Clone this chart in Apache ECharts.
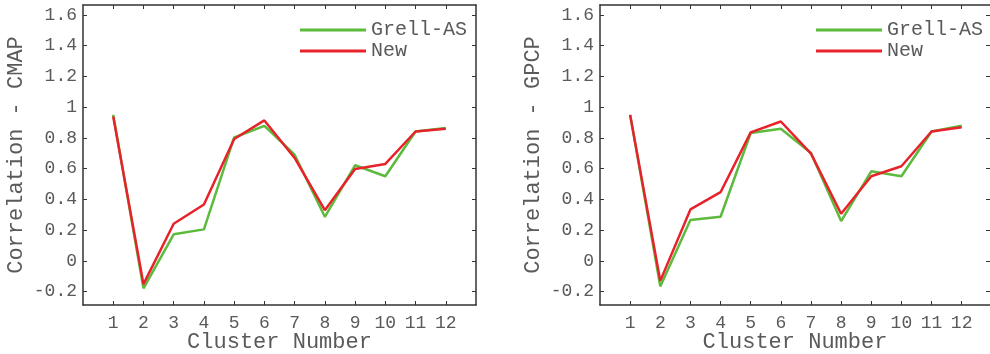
<!DOCTYPE html>
<html>
<head>
<meta charset="utf-8">
<script src="https://cdn.jsdelivr.net/npm/echarts@6/dist/echarts.min.js"></script>
<style>html,body{margin:0;padding:0;background:#fff}#c{width:990px;height:354px}</style>
</head>
<body>
<div id="c"></div>
<script>
const clusters = [1,2,3,4,5,6,7,8,9,10,11,12];
const yTicks = [-0.2,0,0.2,0.4,0.6,0.8,1,1.2,1.4,1.6];
const cmapGrell = [0.95,-0.179,0.173,0.205,0.803,0.879,0.691,0.287,0.622,0.551,0.842,0.864];
const cmapNew   = [0.94,-0.151,0.242,0.367,0.793,0.914,0.670,0.330,0.598,0.631,0.842,0.860];
const gpcpGrell = [0.95,-0.166,0.266,0.287,0.832,0.860,0.702,0.259,0.583,0.551,0.842,0.879];
const gpcpNew   = [0.95,-0.130,0.335,0.447,0.836,0.907,0.698,0.307,0.551,0.616,0.842,0.870];
const seriesNames = ['Grell-AS','New'];
const yTitles = ['Correlation - CMAP','Correlation - GPCP'];
const xTitle = 'Cluster Number';

const FONT = "'Liberation Mono', 'DejaVu Sans Mono', monospace";
const TXT = '#5a5a5a';
const AX = '#333';
const GREEN = '#5cbb3c';
const RED = '#e8222b';

const grids = [
  {left: 83, top: 5, width: 393, height: 300, outerBoundsMode: 'none', containLabel: false},
  {left: 600, top: 5, width: 390, height: 300, outerBoundsMode: 'none', containLabel: false}
];
const xAxes = [], yAxes = [], series = [], legends = [];
[0,1].forEach(i => {
  const lineStyle = {color: AX, width: 1.5};
  const xMax = i === 0 ? 13 : 12.94;
  xAxes.push({
    type: 'value', gridIndex: i, min: 0, max: xMax, position: 'bottom',
    name: xTitle, nameLocation: 'middle', nameGap: 26, nameMoveOverlap: false,
    nameTextStyle: {fontFamily: FONT, fontSize: 22, color: TXT},
    axisLine: {show: true, onZero: false, lineStyle},
    axisTick: {show: true, inside: true, length: 4, lineStyle: {color: AX, width: 1}, customValues: clusters},
    axisLabel: {show: true, customValues: clusters, fontFamily: FONT, fontSize: 18, color: TXT, margin: 9},
    splitLine: {show: false}
  });
  xAxes.push({
    type: 'value', gridIndex: i, min: 0, max: xMax, position: 'top',
    axisLine: {show: true, onZero: false, lineStyle},
    axisTick: {show: true, inside: true, length: 4, lineStyle: {color: AX, width: 1}, customValues: clusters},
    axisLabel: {show: false}, splitLine: {show: false}
  });
  yAxes.push({
    type: 'value', gridIndex: i, min: -0.287, max: 1.665, position: 'left',
    name: yTitles[i], nameLocation: 'middle', nameGap: 56, nameMoveOverlap: false,
    nameTextStyle: {fontFamily: FONT, fontSize: 22, color: TXT},
    axisLine: {show: true, onZero: false, lineStyle},
    axisTick: {show: true, inside: true, length: 4, lineStyle: {color: AX, width: 1}, customValues: yTicks},
    axisLabel: {show: true, customValues: yTicks, fontFamily: FONT, fontSize: 18, color: TXT, margin: 6,
      formatter: v => String(Math.round(v*10)/10)},
    splitLine: {show: false}
  });
  yAxes.push({
    type: 'value', gridIndex: i, min: -0.287, max: 1.665, position: 'right',
    axisLine: {show: i === 0, onZero: false, lineStyle},
    axisTick: {show: true, inside: true, length: 4, lineStyle: {color: AX, width: 1}, customValues: yTicks},
    axisLabel: {show: false}, splitLine: {show: false}
  });
});
const dataSets = [[cmapGrell, cmapNew],[gpcpGrell, gpcpNew]];
const colors = [GREEN, RED];
[0,1].forEach(i => {
  [0,1].forEach(s => {
    series.push({
      type: 'line', name: seriesNames[s], xAxisIndex: i*2, yAxisIndex: i*2,
      data: clusters.map((c,k) => [c, dataSets[i][s][k]]),
      showSymbol: false, symbol: 'none', silent: true, animation: false,
      lineStyle: {color: colors[s], width: 2.5}, itemStyle: {color: colors[s]}
    });
  });
});
const legendLeft = [295, 811];
[0,1].forEach(i => {
  legends.push({
    orient: 'vertical', left: legendLeft[i], top: 15, itemGap: 1,
    itemWidth: 66, itemHeight: 3, icon: 'rect',
    data: seriesNames,
    textStyle: {fontFamily: FONT, fontSize: 20, color: TXT, lineHeight: 20},
    selectedMode: false
  });
});

const chart = echarts.init(document.getElementById('c'), null, {renderer: 'canvas'});
chart.setOption({
  animation: false,
  backgroundColor: '#fff',
  grid: grids,
  xAxis: xAxes,
  yAxis: yAxes,
  legend: legends,
  series: series
});
</script>
</body>
</html>
